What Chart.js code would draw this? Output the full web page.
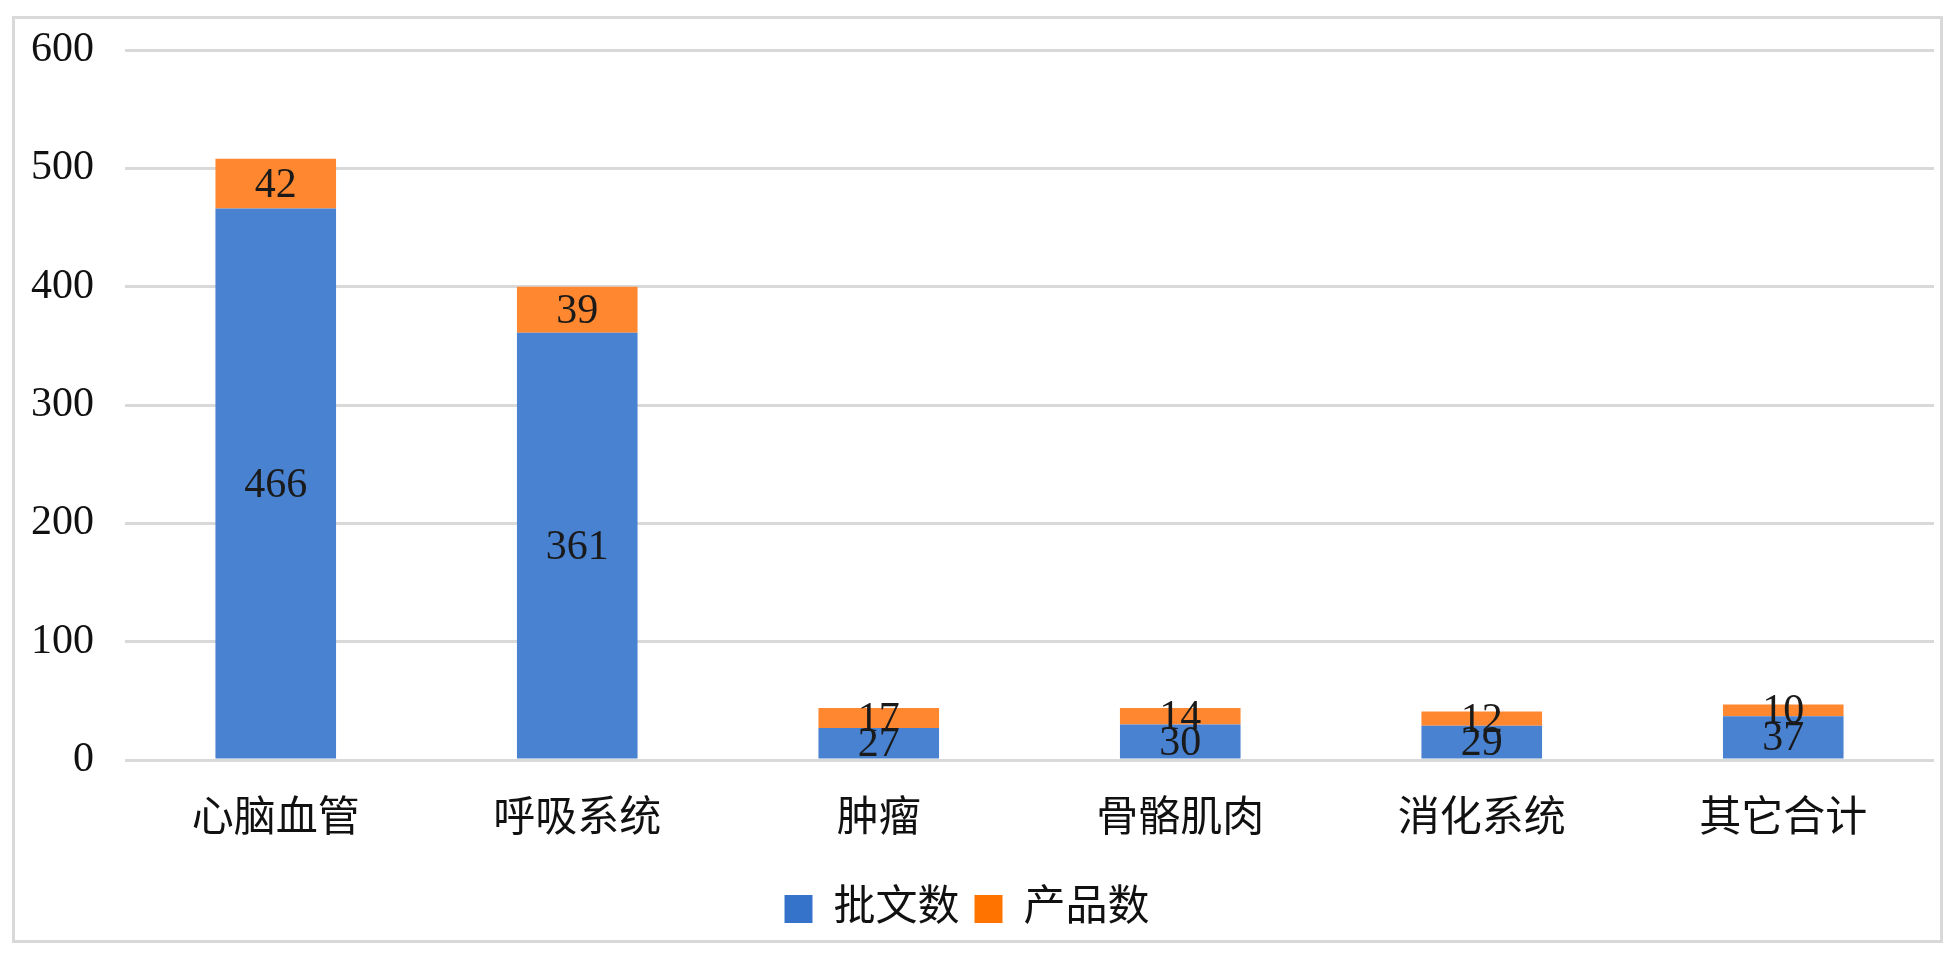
<!DOCTYPE html>
<html lang="zh-CN">
<head>
<meta charset="utf-8">
<title>批文数 / 产品数</title>
<script src="https://cdn.jsdelivr.net/npm/chart.js@4/dist/chart.umd.min.js"></script>
<style>
    html, body { margin: 0; padding: 0; background: #fff; }
    #wrap { position: relative; width: 1954px; height: 954px; }
</style>
</head>
<body>
<div id="wrap"><canvas id="chart" width="1954" height="954"></canvas></div>
<script>
// データ
const categories = ['心脑血管', '呼吸系统', '肿瘤', '骨骼肌肉', '消化系统', '其它合计'];
const approvals = [466, 361, 27, 30, 29, 37];   // 批文数
const products = [42, 39, 17, 14, 12, 10];      // 产品数
const yTicks = [0, 100, 200, 300, 400, 500, 600];

const FONT = "'Liberation Serif', 'Noto Sans CJK SC', serif";
const barBlue = '#4882d0';
const barOrange = '#ff8730';
const legendBlue = '#3572c9';
const legendOrange = '#ff7300';

// 外枠
const framePlugin = {
    id: 'frame',
    beforeDraw(chart) {
        const ctx = chart.ctx;
        ctx.save();
        ctx.strokeStyle = '#d9d9d9';
        ctx.lineWidth = 3;
        ctx.strokeRect(13.5, 17.5, 1928, 924);
        ctx.restore();
    }
};

// 各セグメント中央に数値
const labelPlugin = {
    id: 'segLabels',
    afterDatasetsDraw(chart) {
        const ctx = chart.ctx;
        ctx.save();
        ctx.font = '42px ' + FONT;
        ctx.fillStyle = '#1a1a1a';
        ctx.textAlign = 'center';
        ctx.textBaseline = 'middle';
        chart.data.datasets.forEach((ds, i) => {
            const meta = chart.getDatasetMeta(i);
            meta.data.forEach((bar, j) => {
                const y = (bar.y + bar.base) / 2;
                ctx.fillText(String(ds.data[j]), bar.x, y + 2);
            });
        });
        ctx.restore();
    }
};

const ctx = document.getElementById('chart').getContext('2d');
new Chart(ctx, {
    type: 'bar',
    data: {
        labels: categories,
        datasets: [
            {
                label: '批文数',
                data: approvals,
                backgroundColor: barBlue,
                barPercentage: 0.4,
                categoryPercentage: 1.0
            },
            {
                label: '产品数',
                data: products,
                backgroundColor: barOrange,
                barPercentage: 0.4,
                categoryPercentage: 1.0
            }
        ]
    },
    options: {
        responsive: false,
        animation: false,
        layout: { padding: { top: 50, right: 20, left: 0, bottom: 14 } },
        scales: {
            x: {
                stacked: true,
                grid: { display: false, drawTicks: false },
                border: { display: false },
                ticks: {
                    color: '#111',
                    font: { family: FONT, size: 42 },
                    padding: 35,
                    maxRotation: 0
                },
                afterFit(scale) { scale.height = 113; }
            },
            y: {
                stacked: true,
                min: 0,
                max: 600,
                afterBuildTicks(scale) {
                    scale.ticks = yTicks.map(v => ({ value: v }));
                },
                grid: { color: '#d9d9d9', lineWidth: 3, drawTicks: false },
                border: { display: false },
                ticks: {
                    color: '#111',
                    font: { family: FONT, size: 42 },
                    padding: 31
                },
                afterFit(scale) {
                    scale.width = 125;
                    scale.paddingTop = 0;
                    scale.paddingBottom = 0;
                }
            }
        },
        plugins: {
            tooltip: { enabled: false },
            legend: {
                position: 'bottom',
                labels: {
                    color: '#111',
                    font: { family: FONT, size: 42 },
                    boxWidth: 28,
                    boxHeight: 28,
                    padding: 15,
                    generateLabels(chart) {
                        const cols = [legendBlue, legendOrange];
                        return chart.data.datasets.map((ds, i) => ({
                            text: ds.label,
                            fillStyle: cols[i],
                            strokeStyle: cols[i],
                            lineWidth: 0,
                            fontColor: '#111',
                            datasetIndex: i
                        }));
                    }
                }
            }
        }
    },
    plugins: [framePlugin, labelPlugin]
});
</script>
</body>
</html>
